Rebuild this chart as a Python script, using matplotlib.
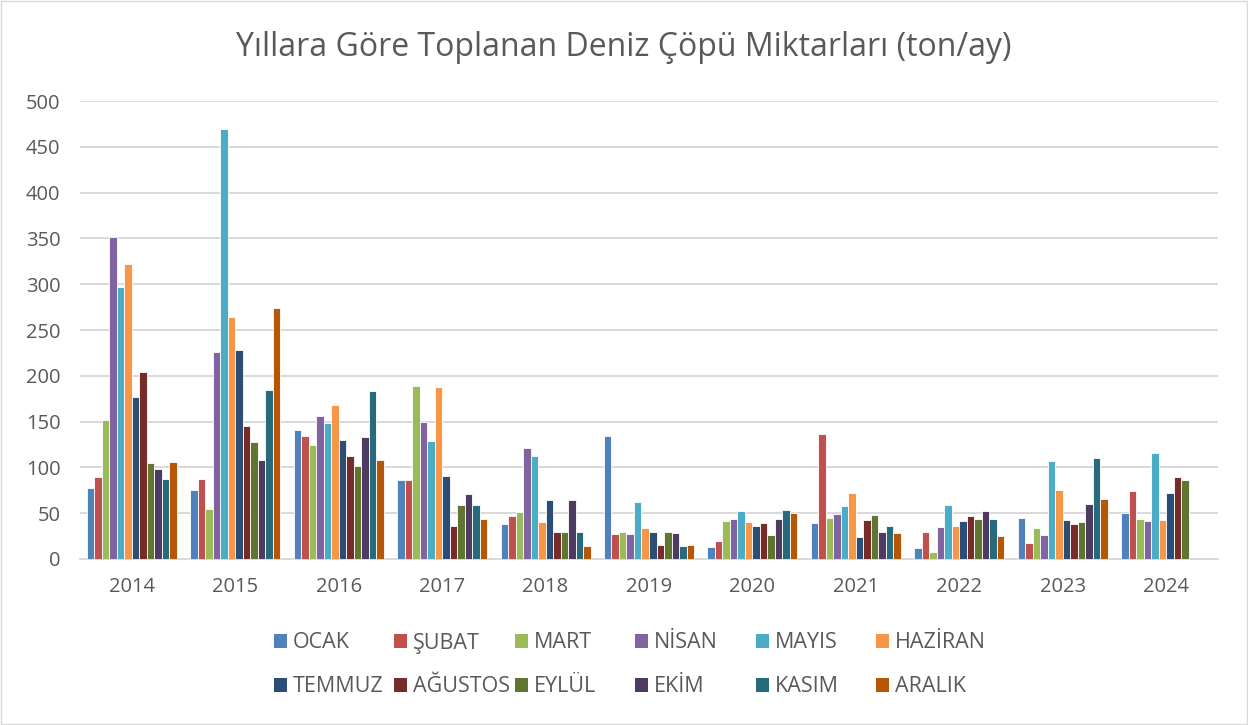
import matplotlib
matplotlib.use("Agg")
import matplotlib.pyplot as plt
from matplotlib.patches import Rectangle, Patch
import numpy as np

years = ["2014", "2015", "2016", "2017", "2018", "2019", "2020", "2021", "2022", "2023", "2024"]
months = ["OCAK", "ŞUBAT", "MART", "NİSAN", "MAYIS", "HAZİRAN",
          "TEMMUZ", "AĞUSTOS", "EYLÜL", "EKİM", "KASIM", "ARALIK"]
colors = ["#4F81BD", "#C0504D", "#9BBB59", "#8064A2", "#4BACC6", "#F79646",
          "#2C4D75", "#772C2A", "#5F7530", "#4D3B62", "#276A7C", "#B65708"]

# values per month, one entry per year (None = no data)
ocak    = [78, 75, 141, 86, 38, 134, 13, 39, 12, 45, 50]
subat   = [90, 87, 134, 86, 47, 27, 20, 136, 30, 17, 74]
mart    = [152, 55, 125, 189, 51, 30, 42, 45, 8, 34, 44]
nisan   = [351, 226, 156, 150, 121, 27, 44, 49, 35, 26, 42]
mayis   = [297, 469, 149, 129, 112, 62, 52, 58, 59, 107, 116]
haziran = [322, 264, 168, 188, 40, 34, 40, 72, 36, 75, 43]
temmuz  = [177, 228, 130, 91, 64, 30, 36, 24, 41, 43, 72]
agustos = [204, 145, 112, 36, 29, 15, 39, 43, 47, 38, 90]
eylul   = [105, 128, 102, 59, 29, 29, 26, 48, 44, 40, 86]
ekim    = [98, 108, 133, 71, 64, 28, 44, 30, 52, 60, None]
kasim   = [87, 184, 183, 59, 29, 14, 54, 36, 44, 110, None]
aralik  = [106, 274, 108, 44, 14, 15, 50, 28, 25, 66, None]

series = [ocak, subat, mart, nisan, mayis, haziran,
          temmuz, agustos, eylul, ekim, kasim, aralik]

FONT = ["Open Sans", "DejaVu Sans"]
plt.rcParams["font.family"] = FONT
TXT = "#595959"

W, H = 1248, 725
fig = plt.figure(figsize=(W / 100, H / 100), dpi=100)
fig.patch.set_facecolor("white")
fig.patches.append(Rectangle((0.0008, 0.0014), 0.9984, 0.9972, transform=fig.transFigure,
                             fill=False, edgecolor="#D9D9D9", linewidth=1))

ax = fig.add_axes([80 / W, 1 - 559 / H, (1218 - 80) / W, (559 - 101) / H])
x = np.arange(len(years))
n = len(months)
w = 0.87 / n
for i, (vals, c) in enumerate(zip(series, colors)):
    xs = [xi for xi, v in zip(x, vals) if v is not None]
    vs = [v for v in vals if v is not None]
    ax.bar(np.array(xs) - 0.435 + w * (i + 0.5), vs, width=w, color=c,
           edgecolor="white", linewidth=0.6, zorder=3, label=months[i])

ax.set_xlim(-0.5, len(years) - 0.5)
ax.set_ylim(0, 500)
ax.set_yticks(np.arange(0, 501, 50))
ax.yaxis.grid(True, color="#D9D9D9", linewidth=1.4, zorder=0)
ax.set_axisbelow(True)
for s in ["top", "right", "left"]:
    ax.spines[s].set_visible(False)
ax.spines["bottom"].set_color("#D9D9D9")
ax.spines["bottom"].set_linewidth(1.4)
ax.set_xticks(x)
ax.set_xticklabels(years)
ax.tick_params(axis="both", length=0, labelsize=14.5, colors=TXT)
ax.tick_params(axis="x", pad=13)
ax.tick_params(axis="y", pad=14)

fig.text(0.5, 1 - 47 / H, "Yıllara Göre Toplanan Deniz Çöpü Miktarları (ton/ay)",
         ha="center", va="center", fontsize=23, color=TXT)

# legend: 2 rows x 6 columns, one entry per legend for exact placement
col_x = [274, 394, 515, 635, 756, 876]
row_y = [643, 687]
for k, (m, c) in enumerate(zip(months, colors)):
    r, col = divmod(k, 6)
    fig.legend([Patch(facecolor=c, edgecolor="none")], [m],
               loc="center left", bbox_to_anchor=(col_x[col] / W, 1 - row_y[r] / H),
               frameon=False, fontsize=15.5, handlelength=0.6, handleheight=0.6,
               handletextpad=0.28, borderpad=0, borderaxespad=0, labelcolor=TXT)

fig.savefig("out.png", dpi=100, facecolor="white")
